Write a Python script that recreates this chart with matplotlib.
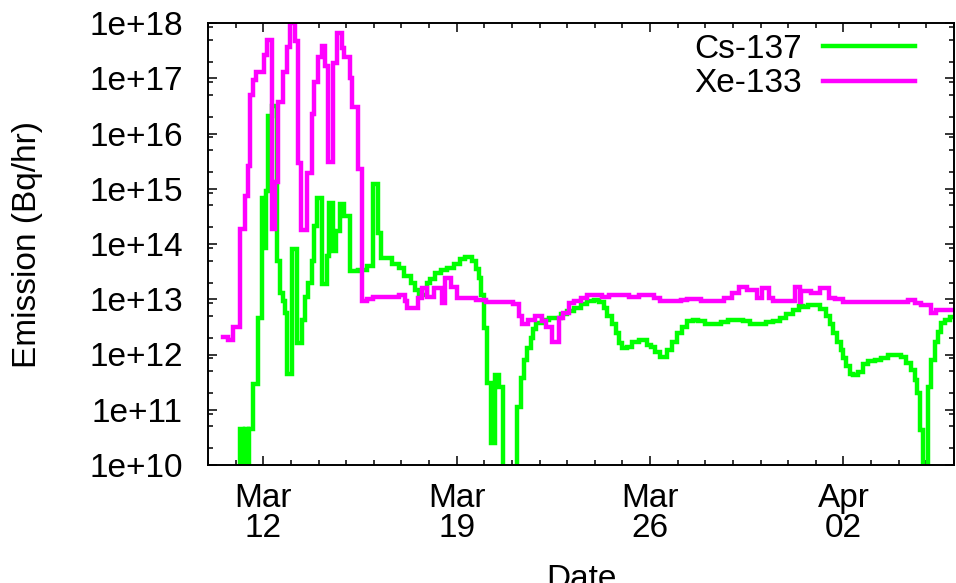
import numpy as np
import pandas as pd
import matplotlib
matplotlib.use("Agg")
import matplotlib.pyplot as plt
import matplotlib.dates as mdates
from matplotlib.ticker import LogLocator, FuncFormatter, NullFormatter

# ---- data: hours since 2011-03-10 00:00, emission in Bq/hr ----
start = "2011-03-10 00:00"

xe_hours = [13, 17, 22, 28, 32, 35, 36.5, 39, 42, 48.5, 51, 55.5, 58, 60.5, 65, 68.5, 71,
            75.5, 78, 80.5, 86, 90, 92.5, 95.5, 99, 101.5, 104, 108.5, 112, 116, 118.5,
            123, 125.5, 130, 133.5, 138, 143, 166, 171, 173, 182, 185.5, 190.5, 196.5,
            203, 205.5, 211.5, 216.5, 233, 241.5, 264.5, 270.5, 273, 278, 284, 290, 294,
            299, 305, 308, 313.5, 318, 324, 329, 335, 342, 348, 357, 365.5, 374, 387,
            393, 410.5, 416, 428, 448, 455, 461, 468, 476.5, 481, 487, 491, 510, 514,
            515.5, 524, 532, 539, 545, 552, 608, 614, 619.5, 628, 632.5, 640, 648]
xe_vals = [2.1e12, 1.8e12, 3.2e12, 1.9e14, 7.5e14, 2.6e15, 4.9e16, 9.2e16, 1.3e17, 2.6e17,
           4.9e17, 1.9e14, 1.3e15, 3.7e16, 1.3e17, 3.7e17, 1.0e18, 4.7e17, 2.9e15, 1.8e14,
           1.9e15, 2.3e16, 8.5e16, 2.4e17, 3.8e17, 1.7e17, 3.0e15, 1.9e17, 6.6e17, 3.5e17,
           2.4e17, 1.0e17, 3.0e16, 2.3e15, 9.2e12, 1.0e13, 1.1e13, 1.2e13, 9.2e12, 6.9e12,
           1.04e13, 1.6e13, 1.1e13, 1.6e13, 8.5e12, 2.4e13, 1.7e13, 1.04e13, 9.8e12,
           8.8e12, 8.1e12, 4.9e12, 3.5e12, 4.3e12, 5.0e12, 4.0e12, 3.2e12, 1.7e12, 4.5e12,
           5.6e12, 8.5e12, 9.2e12, 1.04e13, 1.18e13, 1.2e13, 1.09e13, 1.18e13, 1.2e13,
           1.1e13, 1.2e13, 1.04e13, 9.2e12, 9.8e12, 1.0e13, 9.2e12, 1.04e13, 1.29e13,
           1.7e13, 1.5e13, 1.04e13, 1.6e13, 1.04e13, 9.2e12, 1.65e13, 9.0e12, 1.4e13,
           1.3e13, 1.6e13, 1.04e13, 1.0e13, 8.8e12, 9.8e12, 8.5e12, 7.9e12, 5.6e12,
           6.5e12, 6.3e12, 6.3e12]

cs_hours = [26, 28, 30, 32, 34.5, 36, 39, 43, 47, 48.5, 50, 52, 55.5, 60, 62.5, 65, 66.5,
            69, 73, 77, 81.5, 84, 86.5, 90, 92.5, 94.5, 99, 103, 105, 108.5, 111, 114.5,
            118.5, 123, 130, 138.5, 143, 147.5, 150, 160, 166, 170.5, 176, 179.5, 183.5,
            190.5, 193, 197.5, 202.5, 208, 214, 218.5, 223.5, 229.5, 233, 235.5, 237.5,
            240, 242.5, 246, 249.5, 253, 256.5, 268.5, 272, 274.5, 277, 280.5, 282.5, 285,
            290, 296, 306.5, 312, 318, 324, 329, 335, 339.5, 344, 346.5, 351, 354.5, 357,
            359.5, 364, 368, 374, 381, 384.5, 388, 392.5, 398.5, 403, 407, 411.5, 416,
            421, 426, 432, 446, 452, 465, 471, 485, 491, 497, 502.5, 508.5, 513, 517,
            521.5, 532, 536.5, 540.5, 543, 546, 549.5, 552, 554.5, 558, 560.5, 565, 569,
            573.5, 579.5, 585, 591, 602, 606.5, 611, 614.5, 616, 618.5, 621, 625.5, 628,
            631.5, 634, 637, 640, 644.5, 648]
cs_vals = [3e9, 4.5e10, 5e9, 4.5e10, 5e9, 4.5e10, 2.9e11, 4.5e12, 6.9e14, 8.5e13, 9.2e14,
           2.1e16, 3.2e16, 4.9e13, 1.3e13, 9.2e12, 5.6e12, 4.5e11, 8.1e13, 1.6e12, 4.3e12,
           1.1e13, 2.0e13, 4.9e13, 2.1e14, 6.9e14, 1.9e13, 6.1e13, 5.6e14, 7.5e13, 1.7e14,
           5.3e14, 3.2e14, 3.2e13, 3.4e13, 4.0e13, 1.2e15, 1.6e14, 5.6e13, 4.3e13, 3.7e13,
           2.6e13, 2.0e13, 1.5e13, 1.2e13, 2.0e13, 2.3e13, 3.0e13, 3.4e13, 3.7e13, 4.3e13,
           5.3e13, 5.8e13, 4.9e13, 3.5e13, 2.4e13, 1.2e13, 3.0e12, 3.1e11, 2.5e10, 4.3e11,
           2.6e11, 3e9, 1.1e11, 3.7e11, 8.1e11, 1.3e12, 2.0e12, 2.9e12, 3.7e12, 4.3e12,
           4.5e12, 5.3e12, 6.1e12, 6.9e12, 8.1e12, 9.2e12, 9.6e12, 8.8e12, 6.9e12, 4.9e12,
           3.5e12, 2.4e12, 1.6e12, 1.3e12, 1.35e12, 1.65e12, 1.8e12, 1.5e12, 1.35e12,
           1.1e12, 9.2e11, 1.2e12, 1.7e12, 2.4e12, 3.2e12, 4.0e12, 4.3e12, 4.0e12, 3.5e12,
           3.8e12, 4.3e12, 4.0e12, 3.5e12, 3.8e12, 4.1e12, 4.5e12, 5.3e12, 6.3e12, 7.5e12,
           7.2e12, 7.8e12, 6.6e12, 4.9e12, 3.5e12, 2.4e12, 1.7e12, 1.2e12, 8.5e11, 6.1e11,
           4.5e11, 4.3e11, 4.9e11, 6.6e11, 7.5e11, 8.1e11, 8.5e11, 9.6e11, 8.9e11, 6.9e11,
           5.3e11, 3.5e11, 2.0e11, 4.3e10, 3e9, 2.6e11, 8.1e11, 1.7e12, 2.6e12, 3.7e12,
           4.3e12, 4.7e12, 4.7e12]

series_names = ["Cs-137", "Xe-133"]
series_colors = ["#00ff00", "#ff00ff"]
x_range = ["2011-03-10", "2011-04-06"]
y_range = [1e10, 1e18]

# ---- figure ----
plt.rcParams['font.family'] = ['Liberation Sans', 'DejaVu Sans']
FS = 24
W, H = 956, 583
fig = plt.figure(figsize=(W / 100, H / 100), dpi=100)
ax = fig.add_axes([208 / W, 1 - 465 / H, (954 - 208) / W, (465 - 23) / H])

t0 = pd.Timestamp(start)
cs_t = t0 + pd.to_timedelta(cs_hours, unit='h')
xe_t = t0 + pd.to_timedelta(xe_hours, unit='h')

ax.plot(cs_t, cs_vals, drawstyle='steps-post', color=series_colors[0], lw=3.2,
        label=series_names[0], solid_joinstyle='miter')
ax.plot(xe_t, xe_vals, drawstyle='steps-post', color=series_colors[1], lw=3.2,
        label=series_names[1], solid_joinstyle='miter')

ax.set_yscale('log')
ax.set_ylim(*y_range)
ax.set_xlim(pd.Timestamp(x_range[0]), pd.Timestamp(x_range[1]))

ax.yaxis.set_major_locator(LogLocator(base=10, numticks=20))
ax.yaxis.set_minor_locator(LogLocator(base=10, subs=[2, 5, 8.5], numticks=20))
ax.yaxis.set_minor_formatter(NullFormatter())
ax.yaxis.set_major_formatter(FuncFormatter(lambda v, p: "1e+%d" % int(round(np.log10(v)))))

ax.xaxis.set_major_locator(mdates.WeekdayLocator(byweekday=mdates.SA))
ax.xaxis.set_minor_locator(mdates.DayLocator())
ax.xaxis.set_major_formatter(mdates.DateFormatter('%b\n%d'))

ax.tick_params(which='both', direction='in', top=True, right=True, width=1.1,
               labelsize=FS, color='black')
ax.tick_params(which='major', length=6.5)
ax.tick_params(which='minor', length=3.5)
ax.tick_params(axis='x', which='major', pad=13)
ax.tick_params(axis='y', which='major', pad=18)
for lab in ax.get_xticklabels():
    lab.set_linespacing(0.95)
for s in ax.spines.values():
    s.set_linewidth(1.4)

ax.set_xlabel('Date', fontsize=FS)
ax.xaxis.set_label_coords(0.5, (465 - 564) / 442)
fig.text(28 / W, 1 - 244 / H, 'Emission (Bq/hr)', rotation=90, ha='center', va='center',
         fontsize=FS)

ax.legend(loc='upper right', bbox_to_anchor=(1 - 39 / 746, 1 - 11 / 442), frameon=False,
          markerfirst=False, fontsize=FS, handlelength=2.75, handletextpad=0.65,
          labelspacing=0.1, borderaxespad=0.0, borderpad=0.0)

fig.savefig('out.png', dpi=100)
